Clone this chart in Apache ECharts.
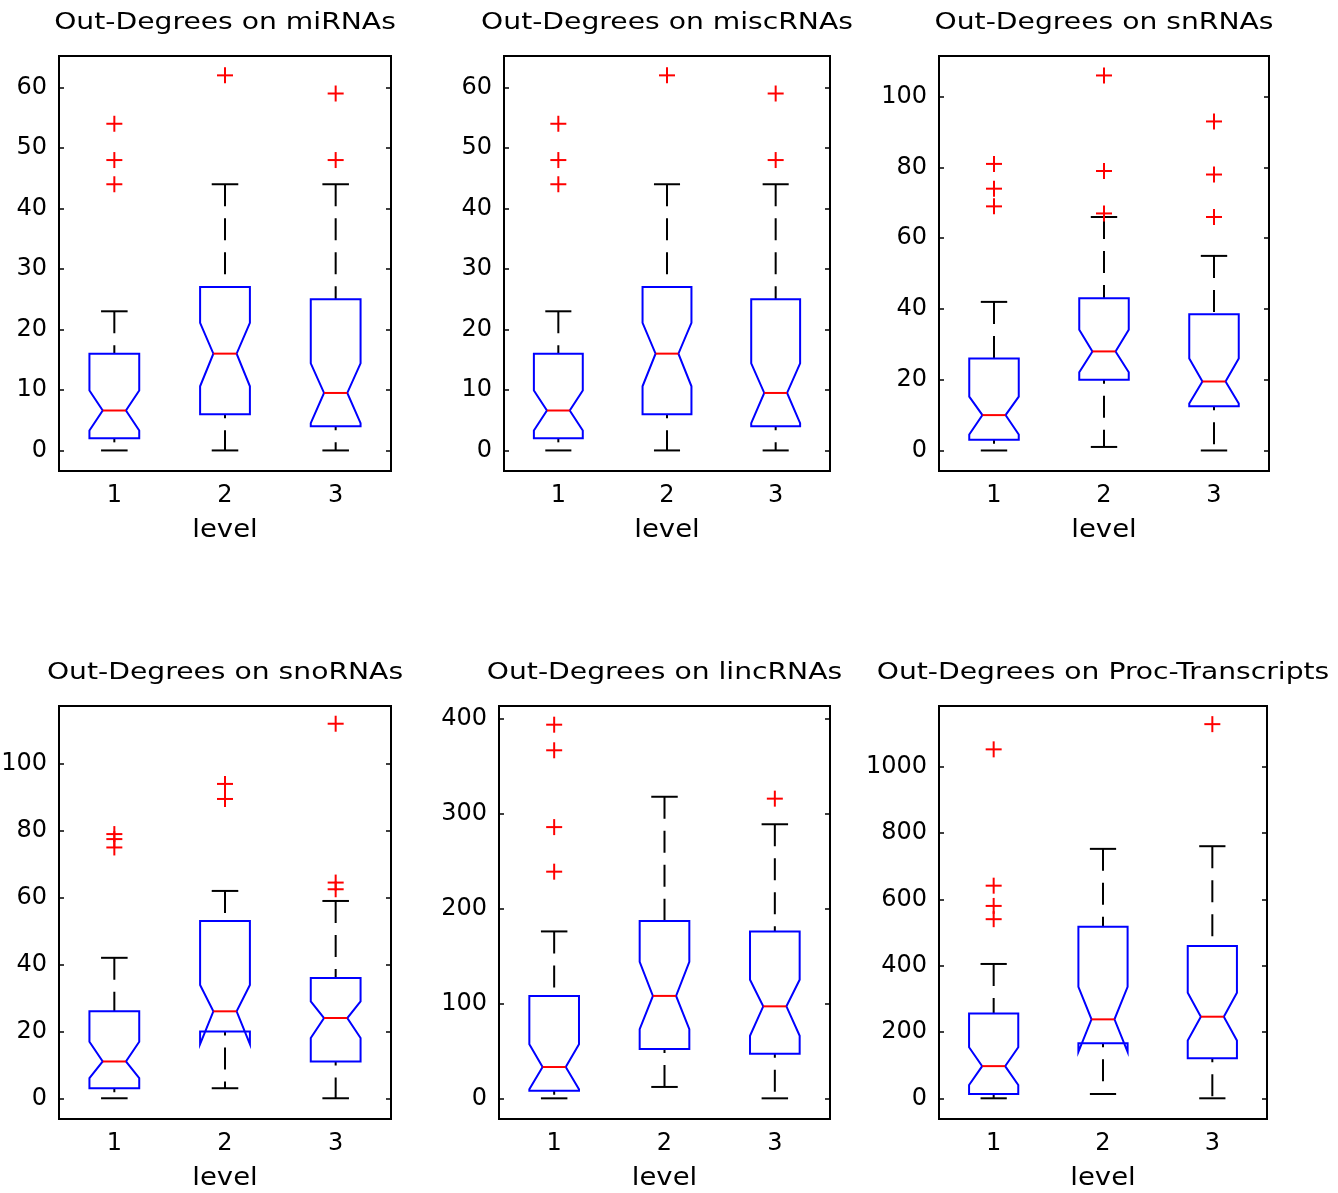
<!DOCTYPE html>
<html><head><meta charset="utf-8">
<script src="https://cdn.jsdelivr.net/npm/echarts@6/dist/echarts.min.js"></script>
<style>html,body{margin:0;padding:0;background:#fff}#chart{width:1338px;height:1193px}</style>
</head><body><div id="chart"></div>
<script>
const categories = ['1', '2', '3'];
const axisName = 'level';
const panelTitles = ['Out-Degrees on miRNAs', 'Out-Degrees on miscRNAs', 'Out-Degrees on snRNAs',
  'Out-Degrees on snoRNAs', 'Out-Degrees on lincRNAs', 'Out-Degrees on Proc-Transcripts'];

// per level: [lowerWhisker, q1, notchLow, median, notchHigh, q3, upperWhisker]
const miRNAsStats = [[0, 2, 3.3, 6.6, 9.9, 16, 23], [0, 6, 10.6, 16, 21.1, 27, 44], [0, 4, 4.5, 9.5, 14.4, 25, 44]];
const miRNAsOutliers = [[54, 48, 44], [62], [59, 48]];
const miRNAsTicks = [0, 10, 20, 30, 40, 50, 60];

const miscRNAsStats = [[0, 2, 3.3, 6.6, 9.9, 16, 23], [0, 6, 10.6, 16, 21.1, 27, 44], [0, 4, 4.5, 9.5, 14.4, 25, 44]];
const miscRNAsOutliers = [[54, 48, 44], [62], [59, 48]];
const miscRNAsTicks = [0, 10, 20, 30, 40, 50, 60];

const snRNAsStats = [[0, 3, 4.5, 10, 15.2, 26, 42], [1, 20, 22.1, 28, 34.1, 43, 66], [0, 12.5, 13.3, 19.5, 26, 38.5, 55]];
const snRNAsOutliers = [[81, 74, 69], [106, 79, 67], [93, 78, 66]];
const snRNAsTicks = [0, 20, 40, 60, 80, 100];

const snoRNAsStats = [[0, 3, 6, 11, 16.9, 26, 42], [3, 20, 16.2, 26, 33.9, 53, 62], [0, 11, 18, 24, 29, 36, 59]];
const snoRNAsOutliers = [[79, 77.5, 75], [94, 89.5], [112, 64.5, 62.5]];
const snoRNAsTicks = [0, 20, 40, 60, 80, 100];

const lincRNAsStats = [[0, 8, 9.5, 33, 57, 108, 176], [12, 52, 73, 108, 144, 187, 318], [0, 47, 66, 97, 125, 176, 289]];
const lincRNAsOutliers = [[394, 367, 286, 239], [], [316]];
const lincRNAsTicks = [0, 100, 200, 300, 400];

const procStats = [[0, 13, 40, 97, 154, 256, 405], [13, 166, 140, 238, 336, 517, 752], [0, 121, 174, 246, 318, 459, 760]];
const procOutliers = [[1052, 641, 580, 540], [], [1128]];
const procTicks = [0, 200, 400, 600, 800, 1000];

const panelStats = [miRNAsStats, miscRNAsStats, snRNAsStats, snoRNAsStats, lincRNAsStats, procStats];
const panelOutliers = [miRNAsOutliers, miscRNAsOutliers, snRNAsOutliers, snoRNAsOutliers, lincRNAsOutliers, procOutliers];
const panelTicks = [miRNAsTicks, miscRNAsTicks, snRNAsTicks, snoRNAsTicks, lincRNAsTicks, procTicks];
const panelRanges = [[-3.4, 65.2], [-3.4, 65.2], [-5.8, 111.5], [-6.2, 117.3], [-21.8, 413.7], [-62.4, 1182.7]];

// layout
const grids = [
  {left: 59, top: 56, width: 332, height: 415},
  {left: 504, top: 56, width: 326, height: 415},
  {left: 939, top: 56, width: 330, height: 415},
  {left: 59, top: 706, width: 332, height: 413},
  {left: 499, top: 706, width: 331, height: 413},
  {left: 939, top: 706, width: 328, height: 413}
];
const FONT = 'DejaVu Sans';

const chart = echarts.init(document.getElementById('chart'));

function boxRender(params, api) {
  const xv = api.value(0);
  const band = api.size([1, 0])[0];
  const y = v => api.coord([xv, v])[1];
  const cx = api.coord([xv, 0])[0];
  const hw = band * 0.225, d = band * 0.12, capHw = band * 0.12;
  const wLo = api.value(1), q1 = api.value(2), nLo = api.value(3), med = api.value(4),
        nHi = api.value(5), q3 = api.value(6), wHi = api.value(7);
  const L = cx - hw, R = cx + hw;
  const black = {stroke: '#000', lineWidth: 2};
  const dashed = {stroke: '#000', lineWidth: 2, lineDash: [22, 12]};
  return {
    type: 'group',
    children: [
      {type: 'line', shape: {x1: cx, y1: y(wHi), x2: cx, y2: y(q3)}, style: dashed},
      {type: 'line', shape: {x1: cx, y1: y(q1), x2: cx, y2: y(wLo)}, style: Object.assign({}, dashed, {lineDashOffset: 18})},
      {type: 'line', shape: {x1: cx - capHw, y1: y(wHi), x2: cx + capHw, y2: y(wHi)}, style: black},
      {type: 'line', shape: {x1: cx - capHw, y1: y(wLo), x2: cx + capHw, y2: y(wLo)}, style: black},
      {type: 'polygon', shape: {points: [
        [L, y(q1)], [L, y(nLo)], [L + d, y(med)], [L, y(nHi)], [L, y(q3)],
        [R, y(q3)], [R, y(nHi)], [R - d, y(med)], [R, y(nLo)], [R, y(q1)]
      ]}, style: {fill: 'none', stroke: '#0000ff', lineWidth: 2}},
      {type: 'line', shape: {x1: L + d, y1: y(med), x2: R - d, y2: y(med)}, style: {stroke: '#ff0000', lineWidth: 2}}
    ]
  };
}

function plusRender(params, api) {
  const p = api.coord([api.value(0), api.value(1)]);
  const s = 8;
  const st = {stroke: '#ff0000', lineWidth: 2};
  return {
    type: 'group',
    children: [
      {type: 'line', shape: {x1: p[0] - s, y1: p[1], x2: p[0] + s, y2: p[1]}, style: st},
      {type: 'line', shape: {x1: p[0], y1: p[1] - s, x2: p[0], y2: p[1] + s}, style: st}
    ]
  };
}

const option = {
  backgroundColor: '#fff',
  animation: false,
  grid: [], xAxis: [], yAxis: [], series: [], graphic: []
};

for (let i = 0; i < 6; i++) {
  const g = grids[i];
  option.grid.push(Object.assign({show: true, borderColor: '#000', borderWidth: 2, backgroundColor: '#fff',
    containLabel: false, outerBoundsMode: 'none'}, g));
  option.xAxis.push({
    gridIndex: i, type: 'category', data: categories, boundaryGap: true,
    axisLine: {show: false}, axisTick: {show: false}, splitLine: {show: false},
    axisLabel: {fontSize: 24, fontFamily: FONT, color: '#000', margin: 13}
  });
  const ticks = panelTicks[i];
  const r = panelRanges[i];
  option.yAxis.push({
    gridIndex: i, type: 'value', position: 'left', min: r[0], max: r[1],
    axisLine: {show: false}, splitLine: {show: false},
    axisTick: {show: true, inside: true, length: 5, lineStyle: {color: '#000', width: 1.5}, customValues: ticks},
    axisLabel: {fontSize: 24, fontFamily: FONT, color: '#000', margin: 12, customValues: ticks,
      formatter: v => String(v)}
  });
  option.yAxis.push({
    gridIndex: i, type: 'value', position: 'right', min: r[0], max: r[1],
    axisLine: {show: false}, splitLine: {show: false},
    axisTick: {show: true, inside: true, length: 5, lineStyle: {color: '#000', width: 1.5}, customValues: ticks},
    axisLabel: {show: false}
  });
  const boxData = panelStats[i].map((s, k) => [k].concat(s));
  option.series.push({
    type: 'custom', xAxisIndex: i, yAxisIndex: 2 * i, renderItem: boxRender,
    encode: {x: 0, y: [1, 2, 3, 4, 5, 6, 7]}, data: boxData, silent: true
  });
  const outData = [];
  panelOutliers[i].forEach((arr, k) => arr.forEach(v => outData.push([k, v])));
  option.series.push({
    type: 'custom', xAxisIndex: i, yAxisIndex: 2 * i, renderItem: plusRender,
    encode: {x: 0, y: 1}, data: outData, silent: true
  });
  const cx = g.left + g.width / 2;
  option.graphic.push({
    type: 'text', x: cx, y: g.top - 33, scaleX: 1.2,
    style: {text: panelTitles[i], fontSize: 23.5, fontFamily: FONT, fill: '#000', textAlign: 'center', textVerticalAlign: 'middle'}
  });
  option.graphic.push({
    type: 'text', x: cx, y: g.top + g.height + 59, scaleX: 1.1,
    style: {text: axisName, fontSize: 25, fontFamily: FONT, fill: '#000', textAlign: 'center', textVerticalAlign: 'middle'}
  });
}

chart.setOption(option);
</script>
</body></html>
